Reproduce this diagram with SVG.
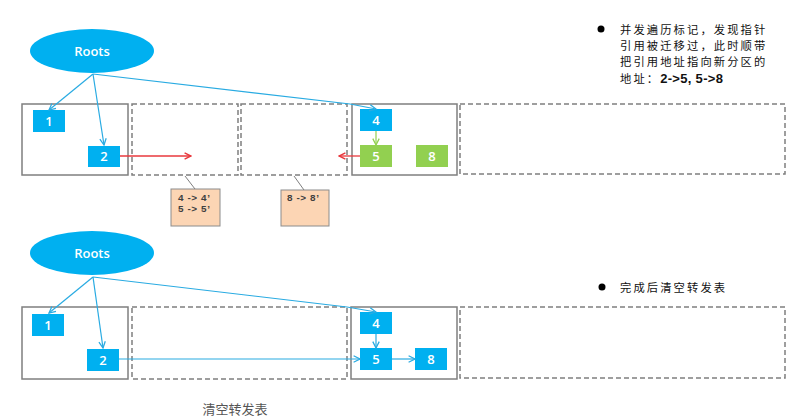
<svg xmlns="http://www.w3.org/2000/svg" width="794" height="417" viewBox="0 0 794 417">
<style>
.bg{fill:#ffffff}
.root{fill:#00B0F0}
.rt{fill:#ffffff;font-family:"Open Sans","Liberation Sans",sans-serif;font-size:13px;font-weight:600;text-anchor:middle}
.region{fill:none;stroke:#7f7f7f;stroke-width:1.5}
.dash{fill:none;stroke:#7f7f7f;stroke-width:1.5;stroke-dasharray:5 3}
.blue{fill:#00B0F0}
.green{fill:#92D050}
.bt{fill:#ffffff;font-family:"Open Sans","Liberation Sans",sans-serif;font-size:13px;font-weight:600;text-anchor:middle}
.tbl{fill:#FCD5B4;stroke:#8c8c8c;stroke-width:1}
.tt{fill:#404040;font-family:"Liberation Sans",Arial,sans-serif;font-size:9.9px;font-weight:bold;letter-spacing:0.6px}
.lead{stroke:#7f7f7f;stroke-width:1;fill:none}
.ab{stroke:#29ABE2;stroke-width:1.2;fill:none}
.ar{stroke:#E8383D;stroke-width:1.3;fill:none}
.ag{stroke:#92D050;stroke-width:1.2;fill:none}
.note{fill:#111111;font-family:"Noto Sans CJK SC","Liberation Sans",sans-serif;font-size:11.3px;letter-spacing:2.1px}
.cap{fill:#555555;font-family:"Noto Sans CJK SC","Liberation Sans",sans-serif;font-size:13px;text-anchor:middle}
</style>
<defs>
<marker id="mb" viewBox="0 0 10 10" refX="9" refY="5" markerWidth="8" markerHeight="8" markerUnits="userSpaceOnUse" orient="auto"><path d="M1,1 L9,5 L1,9" fill="none" stroke="#29ABE2" stroke-width="1.6"/></marker>
<marker id="mr" viewBox="0 0 10 10" refX="9" refY="5" markerWidth="8" markerHeight="8" markerUnits="userSpaceOnUse" orient="auto"><path d="M1,1 L9,5 L1,9" fill="none" stroke="#E8383D" stroke-width="1.8"/></marker>
<marker id="mg" viewBox="0 0 10 10" refX="9" refY="5" markerWidth="8" markerHeight="8" markerUnits="userSpaceOnUse" orient="auto"><path d="M1,1 L9,5 L1,9" fill="none" stroke="#92D050" stroke-width="1.6"/></marker>
</defs>
<rect class="bg" x="0" y="0" width="794" height="417"/>

<!-- ===== Top diagram ===== -->
<g id="top-regions">
<rect class="region" x="22" y="104" width="106" height="71"/>
<rect class="dash" x="132" y="104" width="106" height="71"/>
<rect class="dash" x="241" y="104" width="106" height="71"/>
<rect class="region" x="352" y="104" width="105" height="71"/>
<rect class="dash" x="460" y="104" width="325" height="70"/>
</g>
<g id="top-roots"><ellipse class="root" cx="92" cy="51" rx="62" ry="22"/><text class="rt" x="92" y="55.5">Roots</text></g>
<g id="top-n1"><rect class="blue" x="33" y="110" width="32" height="22"/><text class="bt" x="49" y="125.5">1</text></g>
<g id="top-n2"><rect class="blue" x="88" y="146" width="32" height="21"/><text class="bt" x="104" y="161">2</text></g>
<g id="top-n4"><rect class="blue" x="360" y="109" width="32" height="22"/><text class="bt" x="376" y="124.5">4</text></g>
<g id="top-n5"><rect class="green" x="360" y="145" width="32" height="22"/><text class="bt" x="376" y="160.5">5</text></g>
<g id="top-n8"><rect class="green" x="416" y="145" width="32" height="22"/><text class="bt" x="432" y="160.5">8</text></g>
<g id="top-fwd1"><rect class="tbl" x="171" y="189" width="49" height="37"/><text class="tt" x="178" y="200.5">4 -&gt; 4’</text><text class="tt" x="178" y="212.2">5 -&gt; 5’</text></g>
<g id="top-fwd2"><rect class="tbl" x="281" y="190" width="48" height="36"/><text class="tt" x="287" y="200.5">8 -&gt; 8’</text></g>
<g id="top-connectors">
<line class="ab" x1="93" y1="74" x2="49" y2="110" marker-end="url(#mb)"/>
<line class="ab" x1="93" y1="74" x2="104" y2="145" marker-end="url(#mb)"/>
<polyline class="ab" points="93,74 350,104 376,109" marker-end="url(#mb)"/>
<line class="ag" x1="376" y1="131" x2="376" y2="145" marker-end="url(#mg)"/>
<line class="ar" x1="120" y1="156" x2="191" y2="156" marker-end="url(#mr)"/>
<line class="ar" x1="360" y1="156" x2="339" y2="156" marker-end="url(#mr)"/>
<line class="lead" x1="185" y1="176" x2="195" y2="189"/>
<line class="lead" x1="294" y1="176" x2="304" y2="190"/>
</g>

<!-- ===== Bottom diagram ===== -->
<g id="bottom-regions">
<rect class="region" x="22" y="307" width="106" height="72"/>
<rect class="dash" x="132" y="307" width="215" height="72"/>
<rect class="region" x="351" y="307" width="106" height="72"/>
<rect class="dash" x="460" y="307" width="325" height="71"/>
</g>
<g id="bot-roots"><ellipse class="root" cx="92" cy="253" rx="62" ry="22"/><text class="rt" x="92" y="257.5">Roots</text></g>
<g id="bot-n1"><rect class="blue" x="32" y="314" width="32" height="22"/><text class="bt" x="48" y="329.5">1</text></g>
<g id="bot-n2"><rect class="blue" x="87" y="349" width="32" height="22"/><text class="bt" x="103" y="364.5">2</text></g>
<g id="bot-n4"><rect class="blue" x="360" y="312" width="32" height="22"/><text class="bt" x="376" y="327.5">4</text></g>
<g id="bot-n5"><rect class="blue" x="360" y="348" width="32" height="22"/><text class="bt" x="376" y="363.5">5</text></g>
<g id="bot-n8"><rect class="blue" x="415" y="348" width="32" height="22"/><text class="bt" x="431" y="363.5">8</text></g>
<g id="bottom-connectors">
<line class="ab" x1="93" y1="277" x2="49" y2="313" marker-end="url(#mb)"/>
<line class="ab" x1="93" y1="277" x2="103" y2="348" marker-end="url(#mb)"/>
<polyline class="ab" points="93,277 347,307 376,312" marker-end="url(#mb)"/>
<line class="ab" x1="376" y1="334" x2="376" y2="348" marker-end="url(#mb)"/>
<line class="ab" x1="119" y1="359" x2="360" y2="359" marker-end="url(#mb)"/>
<line class="ab" x1="392" y1="359" x2="415" y2="359" marker-end="url(#mb)"/>
</g>
<text class="cap" x="235" y="414">清空转发表</text>

<!-- ===== Notes ===== -->
<g id="note-top">
<circle cx="601" cy="29" r="3.5" fill="#000"/>
<text class="note" x="620" y="33.5">并发遍历标记，发现指针</text>
<text class="note" x="620" y="49.9">引用被迁移过，此时顺带</text>
<text class="note" x="620" y="66.3">把引用地址指向新分区的</text>
<text class="note" x="620" y="82.7">地址：<tspan font-weight="bold" font-size="13px" letter-spacing="0.3" font-family="'Liberation Sans','Noto Sans CJK SC',sans-serif">2-&gt;5, 5-&gt;8</tspan></text>
</g>
<g id="note-bottom">
<circle cx="602" cy="287" r="3.5" fill="#000"/>
<text class="note" x="620" y="291.5">完成后清空转发表</text>
</g>
</svg>
